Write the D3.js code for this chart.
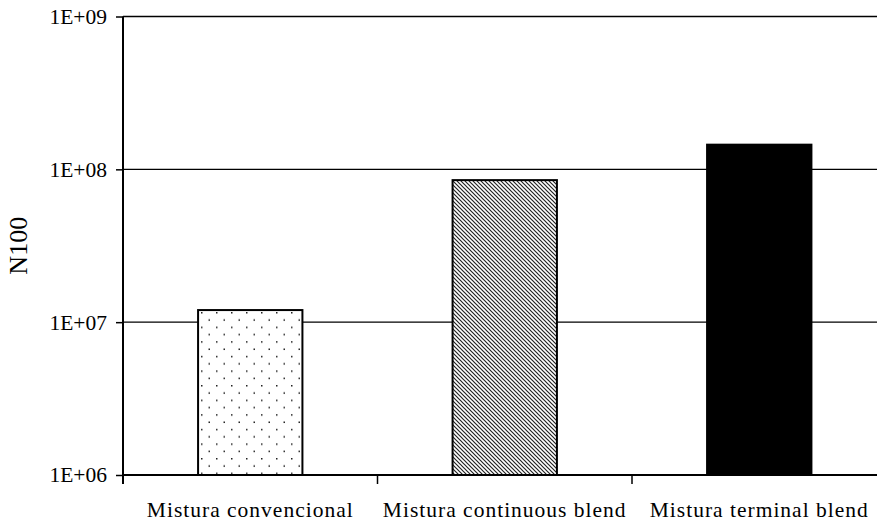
<!DOCTYPE html>
<html>
<head>
<meta charset="utf-8">
<script src="https://cdn.jsdelivr.net/npm/d3@7"></script>
<style>
  html, body { margin: 0; padding: 0; background: #fff; }
  svg { display: block; }
  text { font-family: "Liberation Serif", "Times New Roman", serif; fill: #000; }
</style>
</head>
<body>
<svg id="chart" width="877" height="522"></svg>
<script>
// Fatigue life N100 for each asphalt mixture
const categories = ["Mistura convencional", "Mistura continuous blend", "Mistura terminal blend"];
const values = [1.2e7, 8.5e7, 1.45e8];
const tickValues = [1e6, 1e7, 1e8, 1e9];
const tickLabels = ["1E+06", "1E+07", "1E+08", "1E+09"];
const fills = ["url(#dots)", "url(#diag)", "#000"];

const svg = d3.select("#chart");
const plotLeft = 123, plotRight = 886.5, plotTop = 16.5, plotBottom = 475;

const x = d3.scaleBand().domain(categories).range([plotLeft, plotRight])
  .paddingInner(0.59).paddingOuter(0.295);
const y = d3.scaleLog().domain([1e6, 1e9]).range([plotBottom, plotTop]);

// Fill patterns
const defs = svg.append("defs");
const dots = defs.append("pattern").attr("id", "dots")
  .attr("patternUnits", "userSpaceOnUse").attr("width", 15).attr("height", 14.6)
  .attr("x", 201).attr("y", 312);
dots.append("rect").attr("width", 15).attr("height", 14.6).attr("fill", "#fff");
dots.append("rect").attr("x", 0).attr("y", 0).attr("width", 1.5).attr("height", 1.5).attr("fill", "#222");
dots.append("rect").attr("x", 7.5).attr("y", 7.3).attr("width", 1.5).attr("height", 1.5).attr("fill", "#222");

const diag = defs.append("pattern").attr("id", "diag")
  .attr("patternUnits", "userSpaceOnUse").attr("width", 4).attr("height", 4);
diag.append("rect").attr("width", 4).attr("height", 4).attr("fill", "#fff");
diag.append("path").attr("d", "M-1,-1 L5,5 M3,-1 L5,1 M-1,3 L1,5")
  .attr("stroke", "#222").attr("stroke-width", 1.2);

// Horizontal gridlines
svg.append("g").selectAll("line").data(tickValues.slice(1)).join("line")
  .attr("x1", plotLeft).attr("x2", plotRight)
  .attr("y1", d => y(d)).attr("y2", d => y(d))
  .attr("stroke", "#000").attr("stroke-width", 1.3);

// Bars
svg.append("g").selectAll("rect").data(values).join("rect")
  .attr("x", (d, i) => x(categories[i]))
  .attr("y", d => y(d))
  .attr("width", x.bandwidth())
  .attr("height", d => plotBottom - y(d))
  .attr("fill", (d, i) => fills[i])
  .attr("stroke", "#000").attr("stroke-width", 2);

// Y axis
const yAxis = d3.axisLeft(y).tickValues(tickValues)
  .tickFormat((d, i) => tickLabels[i]).tickSize(7).tickPadding(9);
const gy = svg.append("g").attr("transform", `translate(${plotLeft},0)`).call(yAxis);
gy.select(".domain").remove();
gy.append("line").attr("x1", 0).attr("x2", 0).attr("y1", plotTop).attr("y2", plotBottom + 9)
  .attr("stroke", "#000").attr("stroke-width", 2);
gy.selectAll(".tick line").attr("stroke", "#000").attr("stroke-width", 1.5);
gy.selectAll(".tick text").attr("font-size", 21.5)
  .attr("font-family", "Liberation Serif, Times New Roman, serif").attr("fill", "#000");

// X axis
const gx = svg.append("g").attr("transform", `translate(0,${plotBottom})`);
gx.append("line").attr("x1", plotLeft).attr("x2", plotRight).attr("y1", 0).attr("y2", 0)
  .attr("stroke", "#000").attr("stroke-width", 2);
const bounds = categories.map(c => x(c) - x.step() * x.paddingInner() / 2).slice(1)
  .concat([plotRight]);
gx.selectAll("line.sep").data(bounds).join("line").attr("class", "sep")
  .attr("x1", d => d).attr("x2", d => d).attr("y1", 0).attr("y2", 9)
  .attr("stroke", "#000").attr("stroke-width", 1.5);
gx.selectAll("text").data(categories).join("text")
  .attr("x", d => x(d) + x.bandwidth() / 2)
  .attr("y", 42)
  .attr("text-anchor", "middle")
  .attr("font-size", 21.5)
  .attr("letter-spacing", 1)
  .text(d => d);

// Y axis title
svg.append("text")
  .attr("transform", `translate(27,${(plotTop + plotBottom) / 2}) rotate(-90)`)
  .attr("text-anchor", "middle")
  .attr("font-size", 26)
  .text("N100");
</script>
</body>
</html>
